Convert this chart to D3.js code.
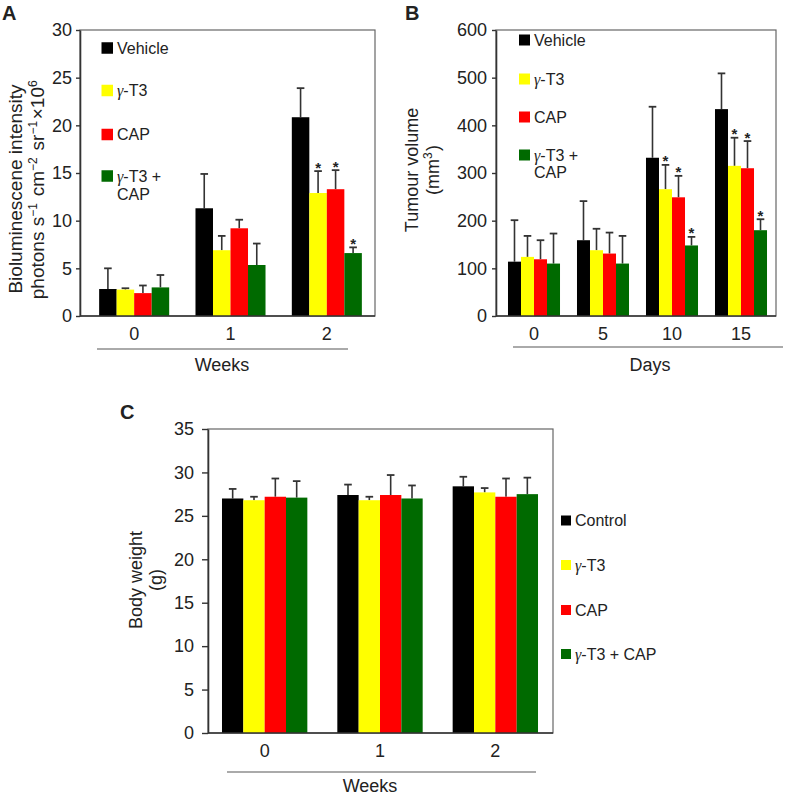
<!DOCTYPE html>
<html><head><meta charset="utf-8">
<script src="https://cdn.jsdelivr.net/npm/d3@7"></script>
<style>
body{margin:0;background:#fff;}
text{font-family:"Liberation Sans",Arial,Helvetica,sans-serif;fill:#222;}
</style>
</head><body>
<svg id="chart" width="785" height="798"></svg>
<script>
// ---------- DATA ----------
const colors = ["#000000", "#ffff00", "#ff0000", "#006a00"];

// Panel A – bioluminescence (weeks)
const weeksA = ["0", "1", "2"];
const aTicks = [0, 5, 10, 15, 20, 25, 30];
const aVehicle = [2.83, 11.3, 20.85];
const aVehicleErr = [2.17, 3.6, 3.05];
const aGT3 = [2.77, 6.9, 12.9];
const aGT3Err = [0.14, 1.5, 2.3];
const aCAP = [2.4, 9.2, 13.3];
const aCAPErr = [0.8, 0.9, 2.0];
const aCombo = [3.0, 5.35, 6.6];
const aComboErr = [1.3, 2.25, 0.6];
const aStarsGT3 = [0, 0, 1];
const aStarsCAP = [0, 0, 1];
const aStarsCombo = [0, 0, 1];
const legendA = [["Vehicle"], ["γ-T3"], ["CAP"], ["γ-T3 +", "CAP"]];

// Panel B – tumour volume (days)
const daysB = ["0", "5", "10", "15"];
const bTicks = [0, 100, 200, 300, 400, 500, 600];
const bVehicle = [114, 159, 332, 434];
const bVehicleErr = [87, 82, 107, 75];
const bGT3 = [124, 138, 266, 315];
const bGT3Err = [44, 45, 51, 59];
const bCAP = [119, 131, 249, 310];
const bCAPErr = [40, 44, 45, 57];
const bCombo = [110, 110, 148, 180];
const bComboErr = [63, 58, 18, 23];
const bStarsGT3 = [0, 0, 1, 1];
const bStarsCAP = [0, 0, 1, 1];
const bStarsCombo = [0, 0, 1, 1];
const legendB = [["Vehicle"], ["γ-T3"], ["CAP"], ["γ-T3 +", "CAP"]];

// Panel C – body weight (weeks)
const weeksC = ["0", "1", "2"];
const cTicks = [0, 5, 10, 15, 20, 25, 30, 35];
const cControl = [27.0, 27.4, 28.4];
const cControlErr = [1.1, 1.2, 1.1];
const cGT3 = [26.8, 26.8, 27.7];
const cGT3Err = [0.4, 0.4, 0.5];
const cCAP = [27.2, 27.4, 27.2];
const cCAPErr = [2.1, 2.3, 2.1];
const cCombo = [27.1, 27.0, 27.5];
const cComboErr = [1.9, 1.5, 1.9];
const legendC = [["Control"], ["γ-T3"], ["CAP"], ["γ-T3 + CAP"]];

// ---------- DRAWING ----------
const svg = d3.select("#chart");

function rich(sel, str) {
  str.split(/(γ)/).forEach(p => {
    if (!p) return;
    const t = sel.append("tspan").text(p);
    if (p === "γ") t.style("font-family", "'Liberation Serif','Times New Roman',serif").style("font-style", "italic");
  });
}

function panel(o) {
  const g = svg.append("g");
  const y = d3.scaleLinear().domain([0, o.ticks[o.ticks.length - 1]]).range([o.bottom, o.top]);
  const x0 = d3.scaleBand().domain(o.cats).range(o.xRange).paddingInner(o.pi).paddingOuter(o.pi / 2);
  const x1 = d3.scaleBand().domain(d3.range(o.series.length)).range([0, x0.bandwidth()]);

  // frame
  g.append("rect").attr("x", o.left).attr("y", o.top)
    .attr("width", o.right - o.left).attr("height", o.bottom - o.top)
    .attr("fill", "none").attr("stroke", "#666").attr("stroke-width", 1.2);

  const rows = o.series.flatMap((s, si) => s.values.map((v, ci) => ({
    si, ci, v, e: s.err[ci], star: s.stars ? s.stars[ci] : 0
  })));
  const xc = d => x0(o.cats[d.ci]) + x1(d.si) + x1.bandwidth() / 2;

  g.selectAll(".err").data(rows).join("line")
    .attr("x1", xc).attr("x2", xc)
    .attr("y1", d => y(d.v)).attr("y2", d => y(d.v + d.e))
    .attr("stroke", "#333").attr("stroke-width", 1.6);
  g.selectAll(".cap").data(rows).join("line")
    .attr("x1", d => xc(d) - 3.8).attr("x2", d => xc(d) + 3.8)
    .attr("y1", d => y(d.v + d.e)).attr("y2", d => y(d.v + d.e))
    .attr("stroke", "#333").attr("stroke-width", 1.8);

  g.selectAll(".bar").data(rows).join("rect")
    .attr("x", d => x0(o.cats[d.ci]) + x1(d.si))
    .attr("width", x1.bandwidth())
    .attr("y", d => y(d.v))
    .attr("height", d => y(0) - y(d.v))
    .attr("fill", d => colors[d.si]);

  g.selectAll(".star").data(rows.filter(d => d.star)).join("text")
    .attr("x", xc).attr("y", d => y(d.v + d.e) + 1.5)
    .attr("text-anchor", "middle").style("font-size", "15px").style("font-weight", "bold")
    .text("*");

  // y axis
  const ya = g.append("g").attr("transform", `translate(${o.left},0)`)
    .call(d3.axisLeft(y).tickValues(o.ticks).tickSize(o.tk[0]).tickPadding(o.tk[1]).tickSizeOuter(0));
  ya.select(".domain").attr("stroke", "#333").attr("stroke-width", 1.6);
  ya.selectAll(".tick line").attr("stroke", "#333").attr("stroke-width", 1.4);
  ya.selectAll(".tick text").style("font-size", "18px").attr("fill", "#222")
    .style("font-family", "'Liberation Sans',Arial,sans-serif");

  // x axis
  const xa = g.append("g").attr("transform", `translate(0,${o.bottom})`)
    .call(d3.axisBottom(x0).tickSize(0).tickPadding(11));
  xa.select(".domain").remove();
  xa.selectAll(".tick text").style("font-size", "18px").attr("fill", "#222")
    .style("font-family", "'Liberation Sans',Arial,sans-serif");
  g.append("line").attr("x1", o.left).attr("x2", o.right).attr("y1", o.bottom).attr("y2", o.bottom)
    .attr("stroke", "#333").attr("stroke-width", 1.6);

  // separator + title
  g.append("line").attr("x1", o.sep[0]).attr("x2", o.sep[1]).attr("y1", o.sep[2]).attr("y2", o.sep[2])
    .attr("stroke", "#aaa").attr("stroke-width", 2);
  g.append("text").attr("x", o.title[1]).attr("y", o.title[2]).attr("text-anchor", "middle")
    .style("font-size", "18px").text(o.title[0]);

  // y labels
  o.ylab.forEach(l => {
    const fs = o.ylabFs;
    const t = g.append("text").attr("transform", `translate(${l.x + fs * 0.35},${o.ylabY}) rotate(-90)`)
      .attr("text-anchor", "middle").style("font-size", fs + "px");
    l.parts.forEach(p => {
      if (p.sup) {
        t.append("tspan").attr("dy", -7).style("font-size", "12px").text(p.sup);
        t.append("tspan").attr("dy", 7).text("\u200A");
      } else t.append("tspan").text(p.t);
    });
  });

  // panel letter
  g.append("text").attr("x", o.letter[1]).attr("y", o.letter[2])
    .style("font-size", "20px").style("font-weight", "bold").attr("fill", "#111").text(o.letter[0]);

  // legend
  o.legend.forEach((lines, i) => {
    const cy = o.leg.rows[i];
    g.append("rect").attr("x", o.leg.x).attr("y", cy - o.leg.s / 2)
      .attr("width", o.leg.s).attr("height", o.leg.s).attr("fill", colors[i]);
    lines.forEach((ln, j) => {
      const t = g.append("text").attr("x", o.leg.tx).attr("y", cy + 5.6 + j * o.leg.lh)
        .style("font-size", "16px");
      rich(t, ln);
    });
  });
}

panel({
  cats: weeksA, ticks: aTicks, tk: [4, 4],
  series: [
    { values: aVehicle, err: aVehicleErr },
    { values: aGT3, err: aGT3Err, stars: aStarsGT3 },
    { values: aCAP, err: aCAPErr, stars: aStarsCAP },
    { values: aCombo, err: aComboErr, stars: aStarsCombo }
  ],
  left: 80, right: 375, top: 30, bottom: 316, xRange: [86, 375], pi: 0.273,
  sep: [97, 348, 349], title: ["Weeks", 222, 371],
  ylabY: 189, ylabFs: 19,
  ylab: [
    { x: 15, parts: [{ t: "Bioluminescene intensity" }] },
    { x: 37, parts: [{ t: "photons s" }, { sup: "−1" }, { t: " cm" }, { sup: "−2" }, { t: " sr" }, { sup: "−1" }, { t: "×10" }, { sup: "6" }] }
  ],
  letter: ["A", 2, 20],
  legend: legendA,
  leg: { x: 101.5, s: 11.5, tx: 117, rows: [48, 90.5, 134.5, 176], lh: 18 }
});

panel({
  cats: daysB, ticks: bTicks, tk: [4, 5],
  series: [
    { values: bVehicle, err: bVehicleErr },
    { values: bGT3, err: bGT3Err, stars: bStarsGT3 },
    { values: bCAP, err: bCAPErr, stars: bStarsCAP },
    { values: bCombo, err: bComboErr, stars: bStarsCombo }
  ],
  left: 496, right: 776, top: 30, bottom: 316, xRange: [499.5, 775.5], pi: 0.246,
  sep: [513, 783, 347], title: ["Days", 650, 371],
  ylabY: 170, ylabFs: 18,
  ylab: [
    { x: 412, parts: [{ t: "Tumour volume" }] },
    { x: 433, parts: [{ t: "(mm" }, { sup: "3" }, { t: ")" }] }
  ],
  letter: ["B", 405, 20],
  legend: legendB,
  leg: { x: 519, s: 11, tx: 534, rows: [40, 79, 117, 155], lh: 17 }
});

panel({
  cats: weeksC, ticks: cTicks, tk: [6, 8],
  series: [
    { values: cControl, err: cControlErr },
    { values: cGT3, err: cGT3Err },
    { values: cCAP, err: cCAPErr },
    { values: cCombo, err: cComboErr }
  ],
  left: 208, right: 553, top: 429, bottom: 733, xRange: [207, 553], pi: 0.26,
  sep: [227, 536, 772], title: ["Weeks", 370, 792],
  ylabY: 580, ylabFs: 18,
  ylab: [
    { x: 136, parts: [{ t: "Body weight" }] },
    { x: 156, parts: [{ t: "(g)" }] }
  ],
  letter: ["C", 120, 419],
  legend: legendC,
  leg: { x: 561, s: 10, tx: 575, rows: [520.5, 565, 610, 654], lh: 17 }
});
</script>
</body></html>
